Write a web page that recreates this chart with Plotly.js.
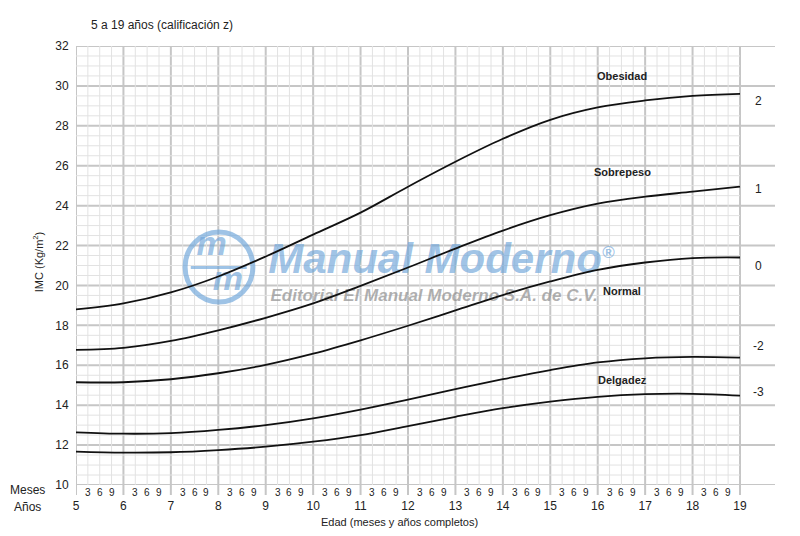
<!DOCTYPE html>
<html>
<head>
<meta charset="utf-8">
<script src="https://cdn.plot.ly/plotly-3.0.1.min.js"></script>
<style>
html,body{margin:0;padding:0;background:#fff;}
#chart{width:800px;height:536px;}
</style>
</head>
<body>
<div id="chart"></div>
<script>
// ---- data ----
const ages = [5, 6, 7, 8, 9, 10, 11, 12, 13, 14, 15, 16, 17, 18, 19];
const zPlus2  = [18.8, 19.1, 19.65, 20.45, 21.45, 22.55, 23.65, 24.95, 26.2, 27.35, 28.3, 28.92, 29.27, 29.5, 29.6];
const zPlus1  = [16.77, 16.87, 17.22, 17.75, 18.38, 19.1, 19.98, 20.9, 21.85, 22.75, 23.52, 24.1, 24.45, 24.7, 24.95];
const zMedian = [15.15, 15.15, 15.3, 15.6, 16.02, 16.58, 17.25, 17.98, 18.75, 19.52, 20.2, 20.78, 21.15, 21.37, 21.4];
const zMinus2 = [12.64, 12.57, 12.6, 12.76, 13.0, 13.34, 13.78, 14.28, 14.8, 15.3, 15.76, 16.14, 16.35, 16.42, 16.38];
const zMinus3 = [11.67, 11.62, 11.64, 11.75, 11.92, 12.17, 12.5, 12.95, 13.42, 13.85, 14.18, 14.42, 14.55, 14.57, 14.48];

const yearTicks = [5, 6, 7, 8, 9, 10, 11, 12, 13, 14, 15, 16, 17, 18, 19];
const monthOffsets = [0.25, 0.5, 0.75];
const monthLabels = ['3', '6', '9'];
const yTicks = [10, 12, 14, 16, 18, 20, 22, 24, 26, 28, 30, 32];
const zoneNames = ['Obesidad', 'Sobrepeso', 'Normal', 'Delgadez'];
const zLabels = ['2', '1', '0', '-2', '-3'];

// ---- styling constants ----
const FONT = 'Liberation Sans, Arial, Helvetica, sans-serif';
const TXT = '#222';
const XMIN = 5, XMAX = 19.738, YMIN = 10, YMAX = 32;
const MAJ = '#c6c6c6', MIN = '#e2e2e2';
const WM_BLUE = 'rgba(112,166,218,0.68)';

const shapes = [];
// minor horizontal grid (every 0.5) within 5..19
for (let v = YMIN; v <= YMAX + 1e-9; v += 0.5) {
  if (Math.abs(v % 2) < 1e-9) continue;
  shapes.push({type:'line', xref:'x', yref:'y', x0:5, x1:19, y0:v, y1:v,
    line:{color:MIN, width:1}, layer:'below'});
}
// minor vertical grid (quarter years)
for (let i = 0; i < yearTicks.length - 1; i++) {
  monthOffsets.forEach(o => {
    shapes.push({type:'line', xref:'x', yref:'y', x0:yearTicks[i]+o, x1:yearTicks[i]+o, y0:YMIN, y1:YMAX,
      line:{color:MIN, width:1}, layer:'below'});
  });
}
// major horizontal grid (every 2), full width
yTicks.forEach(v => {
  shapes.push({type:'line', xref:'paper', yref:'y', x0:0, x1:1, y0:v, y1:v,
    line:{color:MAJ, width:2}, layer:'below'});
});
// major vertical grid (years), extending below the plot as ticks
yearTicks.forEach(a => {
  shapes.push({type:'line', xref:'x', yref:'paper', x0:a, x1:a, y0:-0.023, y1:1,
    line:{color:MAJ, width:2}, layer:'below'});
});
// watermark logo ring
shapes.push({type:'circle', xref:'x', yref:'y', x0:7.30, x1:8.73, y0:19.17, y1:22.68,
  line:{color:WM_BLUE, width:5}, layer:'below'});
shapes.push({type:'line', xref:'x', yref:'y', x0:7.42, x1:8.6, y0:20.9, y1:20.9,
  line:{color:WM_BLUE, width:3}, layer:'below'});

const annotations = [];
// month labels
for (let i = 0; i < yearTicks.length - 1; i++) {
  monthOffsets.forEach((o, j) => {
    annotations.push({xref:'x', yref:'paper', x:yearTicks[i]+o, y:-0.016, text:monthLabels[j],
      showarrow:false, xanchor:'center', yanchor:'middle', font:{family:FONT, size:10, color:TXT}});
  });
}
annotations.push({xref:'paper', yref:'paper', x:-0.069, y:-0.012, text:'Meses', showarrow:false,
  xanchor:'center', yanchor:'middle', font:{family:FONT, size:12, color:TXT}});
annotations.push({xref:'paper', yref:'paper', x:-0.069, y:-0.050, text:'Años', showarrow:false,
  xanchor:'center', yanchor:'middle', font:{family:FONT, size:12, color:TXT}});
annotations.push({xref:'paper', yref:'paper', x:0.0186, y:1.048, text:'5 a 19 años (calificación z)', showarrow:false,
  xanchor:'left', yanchor:'middle', font:{family:FONT, size:12, color:TXT}});
annotations.push({xref:'paper', yref:'paper', x:0.4635, y:-0.084, text:'Edad (meses y años completos)', showarrow:false,
  xanchor:'center', yanchor:'middle', font:{family:FONT, size:11, color:TXT}});
annotations.push({xref:'paper', yref:'paper', x:-0.054, y:0.508, text:'IMC (Kg/m<sup>2</sup>)', showarrow:false,
  textangle:-90, xanchor:'center', yanchor:'middle', font:{family:FONT, size:11, color:TXT}});
// zone names
const zoneY = [30.5, 25.69, 19.72, 15.26];
zoneNames.forEach((n, i) => {
  annotations.push({xref:'x', yref:'y', x:16.52, y:zoneY[i], text:'<b>'+n+'</b>', showarrow:false,
    xanchor:'center', yanchor:'middle', font:{family:FONT, size:11, color:TXT}});
});
// z-score labels
const zLabY = [29.25, 24.84, 20.98, 16.97, 14.66];
zLabels.forEach((t, i) => {
  annotations.push({xref:'x', yref:'y', x:19.38, y:zLabY[i], text:t, showarrow:false,
    xanchor:'center', yanchor:'middle', font:{family:FONT, size:12, color:TXT}});
});

const traces = [];
// watermark (drawn first so the curves sit on top)
traces.push({x:[12.57, 16.22, 7.86, 8.2], y:[21.13, 21.6, 21.95, 20.2], mode:'text',
  text:['Manual Moderno', '®', 'm', 'm'],
  textfont:{family:FONT, size:[42, 17, 34, 34], color:WM_BLUE, weight:'bold', style:'italic'},
  hoverinfo:'skip', showlegend:false, cliponaxis:false});
traces.push({x:[12.55], y:[19.42], mode:'text', text:['Editorial El Manual Moderno S.A. de C.V.'],
  textfont:{family:FONT, size:17, color:'rgba(145,145,145,0.72)', weight:'bold', style:'italic'},
  hoverinfo:'skip', showlegend:false, cliponaxis:false});

[zPlus2, zPlus1, zMedian, zMinus2, zMinus3].forEach((s, i) => {
  traces.push({x:ages, y:s, mode:'lines', name:zLabels[i],
    line:{color:'#111', width:1.8, shape:'spline', smoothing:1}, showlegend:false, hoverinfo:'x+y'});
});

const layout = {
  width:800, height:536,
  margin:{l:76, r:25, t:46, b:51},
  paper_bgcolor:'#fff', plot_bgcolor:'#fff',
  showlegend:false,
  xaxis:{range:[XMIN, XMAX], showgrid:false, zeroline:false, showline:false,
    tickvals:yearTicks, ticktext:yearTicks.map(String), ticks:'outside', ticklen:10,
    tickcolor:'rgba(0,0,0,0)', tickwidth:1, tickfont:{family:FONT, size:12, color:TXT}},
  yaxis:{range:[YMIN, YMAX], showgrid:false, zeroline:false, showline:false,
    tickvals:yTicks, ticktext:yTicks.map(String), ticks:'outside', ticklen:4, tickcolor:'rgba(0,0,0,0)',
    tickfont:{family:FONT, size:12, color:TXT}},
  shapes:shapes,
  annotations:annotations
};

Plotly.newPlot('chart', traces, layout, {staticPlot:true, displayModeBar:false});
</script>
</body>
</html>
